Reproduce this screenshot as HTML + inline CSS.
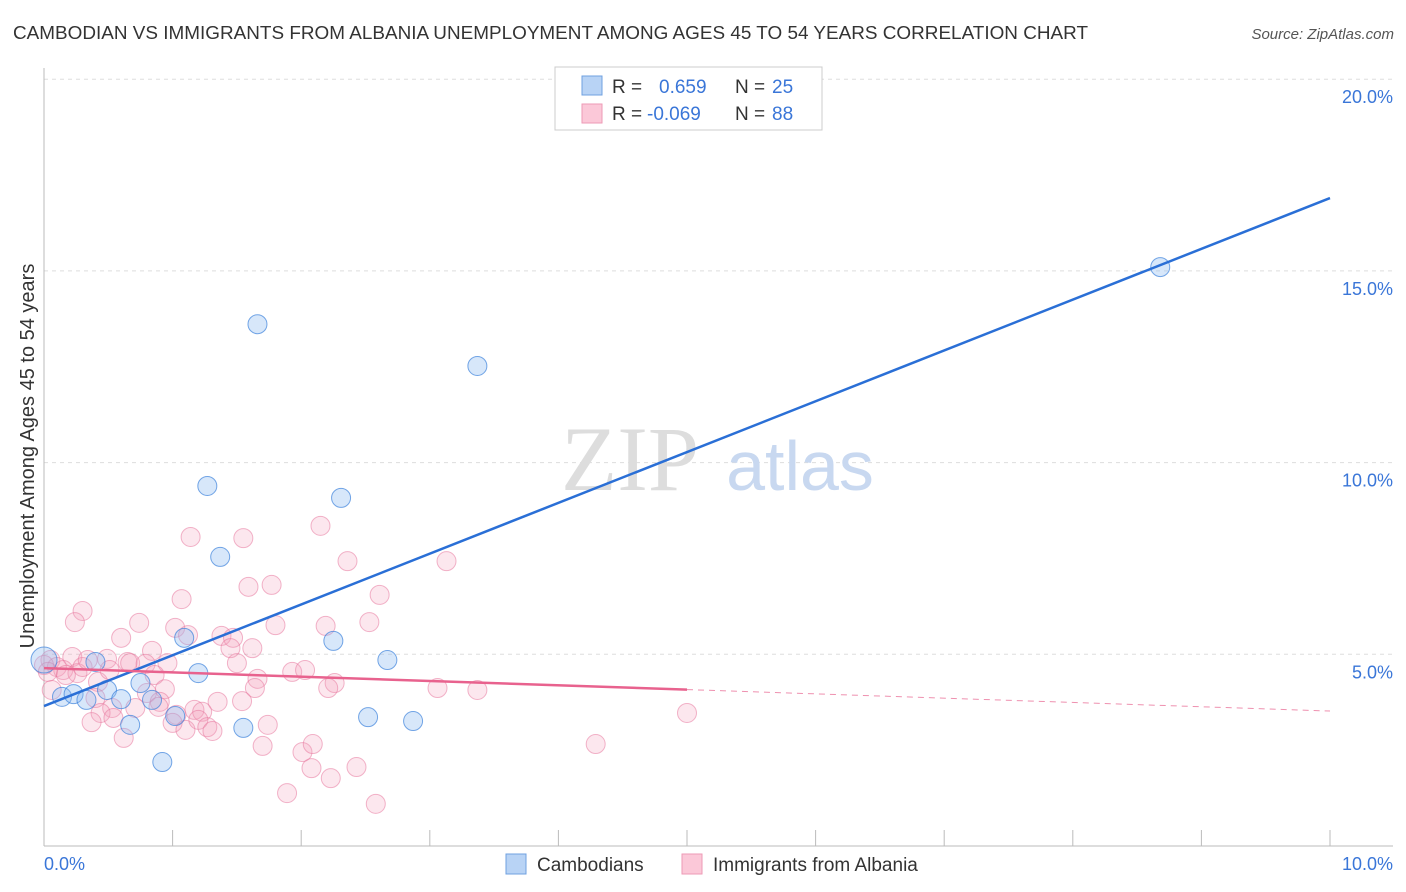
<!DOCTYPE html>
<html><head><meta charset="utf-8"><style>
body{margin:0;background:#fff;font-family:"Liberation Sans",sans-serif;}
svg{display:block}
</style></head><body>
<svg width="1406" height="892">
<text x="13" y="39" font-size="18.5" fill="#333" textLength="1075" lengthAdjust="spacingAndGlyphs">CAMBODIAN VS IMMIGRANTS FROM ALBANIA UNEMPLOYMENT AMONG AGES 45 TO 54 YEARS CORRELATION CHART</text>
<text x="1394" y="39" font-size="15" fill="#555" font-style="italic" text-anchor="end">Source: ZipAtlas.com</text>
<g id="grid"></g>
<text x="630" y="490" font-size="92" fill="#ddd" font-family="Liberation Serif,serif" text-anchor="middle">ZIP</text>
<text x="800" y="490" font-size="70" fill="#c8d8f0" text-anchor="middle">atlas</text>
<g id="pts"></g>
<g id="lines"></g>
<text x="34" y="456" font-size="20" fill="#333" text-anchor="middle" transform="rotate(-90 34 456)">Unemployment Among Ages 45 to 54 years</text>
<text x="44" y="870" font-size="18" fill="#3a76d8">0.0%</text>
<text x="1393" y="870" font-size="18" fill="#3a76d8" text-anchor="end">10.0%</text>
<g>
<rect x="555" y="67" width="267" height="63" fill="#fff" stroke="#ccc"/>
<rect x="582" y="76" width="20" height="19" fill="#b8d3f5" stroke="#6fa0e0"/>
<rect x="582" y="104" width="20" height="19" fill="#fbc8d8" stroke="#ee9ab6"/>
<text x="612" y="93" font-size="19" fill="#333">R = </text><text x="659" y="93" font-size="19" fill="#3a76d8">0.659</text>
<text x="735" y="93" font-size="19" fill="#333">N = </text><text x="772" y="93" font-size="19" fill="#3a76d8">25</text>
<text x="612" y="120" font-size="19" fill="#333">R = </text><text x="647" y="120" font-size="19" fill="#3a76d8">-0.069</text>
<text x="735" y="120" font-size="19" fill="#333">N = </text><text x="772" y="120" font-size="19" fill="#3a76d8">88</text>
</g>
<g>
<rect x="506" y="854" width="20" height="20" fill="#b8d3f5" stroke="#6fa0e0"/>
<text x="537" y="871" font-size="19" fill="#333">Cambodians</text>
<rect x="682" y="854" width="20" height="20" fill="#fbc8d8" stroke="#ee9ab6"/>
<text x="713" y="871" font-size="19" fill="#333">Immigrants from Albania</text>
</g>
</svg>
<script>
const yTicks=[5,10,15,20];
const yTickLabels=["5.0%","10.0%","15.0%","20.0%"];
const blueX=[0,0.14,0.23,0.33,0.40,0.49,0.60,0.67,0.75,0.84,0.92,1.02,1.09,1.20,1.27,1.37,1.55,1.66,2.25,2.31,2.52,2.67,2.87,3.37,8.68];
const blueY=[4.85,3.89,3.96,3.81,4.80,4.07,3.83,3.16,4.25,3.81,2.19,3.39,5.43,4.51,9.39,7.54,3.08,13.61,5.35,9.08,3.36,4.85,3.26,12.52,15.10];
const pinkX=[1.14,1.55,2.15,2.36,3.13,1.07,1.59,1.77,2.61,0.30,0.24,0.74,1.80,2.19,2.53,1.02,1.12,0.60,1.38,1.47,1.45,1.62,0.84,0.22,0.49,0.65,0.67,0.79,0.96,1.50,0.05,0.10,0.15,0.26,0.30,0.42,1.66,1.93,2.03,2.26,2.21,3.06,3.37,0.86,1.64,0.94,0.40,0.80,0.90,0.71,1.35,1.54,0.53,0.44,0.54,0.89,1.17,1.23,0.37,1.03,1.00,1.10,1.20,1.27,1.31,1.74,0.62,1.70,2.01,2.09,2.08,2.23,2.43,1.89,2.58,4.29,5.00,0.00,0.03,0.17,0.34,0.51,0.06];
const pinkY=[8.06,8.03,8.35,7.43,7.43,6.44,6.76,6.81,6.55,6.13,5.84,5.82,5.76,5.74,5.84,5.69,5.50,5.43,5.48,5.43,5.16,5.16,5.09,4.93,4.88,4.80,4.77,4.75,4.77,4.77,4.85,4.67,4.59,4.51,4.67,4.28,4.36,4.54,4.59,4.25,4.12,4.12,4.07,4.46,4.12,4.09,3.86,3.99,3.76,3.60,3.76,3.78,3.60,3.47,3.34,3.63,3.55,3.50,3.23,3.42,3.21,3.03,3.29,3.10,3.00,3.16,2.82,2.61,2.45,2.66,2.03,1.77,2.06,1.38,1.10,2.66,3.47,4.72,4.54,4.46,4.85,4.59,4.07];
const blueTrend=[3.65,16.90];
const pinkTrend=[4.64,3.52];
const pinkSolidEnd=5;
const X=v=>44+v*128.6, Y=v=>846-v*38.34;
const NS="http://www.w3.org/2000/svg";
function mk(p,t,a){const e=document.createElementNS(NS,t);for(const k in a)e.setAttribute(k,a[k]);p.appendChild(e);return e;}
const grid=document.getElementById('grid');
yTicks.forEach((t,i)=>{
 const l=mk(grid,'line',{x1:44,x2:1393,y1:Y(t),y2:Y(t),stroke:'#ddd','stroke-dasharray':'4,4'});
 
 
 const tx=mk(grid,'text',{x:1393,y:Y(t)+24,'font-size':18,fill:'#3a76d8','text-anchor':'end'});
 tx.textContent=yTickLabels[i];
 
 
});
const ax=mk(grid,'line',{x1:44,x2:1393,y1:846,y2:846,stroke:'#bbb'});


const ay=mk(grid,'line',{x1:44,x2:44,y1:68,y2:846,stroke:'#bbb'});


for(let i=1;i<=10;i++){const tk=mk(grid,'line',{x1:X(i),x2:X(i),y1:830,y2:846,stroke:'#bbb'});
 
 }
const pts=document.getElementById('pts');
pinkX.forEach((x,i)=>{const c=mk(pts,'circle',{cx:X(x),cy:Y(pinkY[i]),r:9.5,fill:'rgba(245,160,188,0.25)',stroke:'rgba(232,120,158,0.55)','stroke-width':1});
 
 });
blueX.forEach((x,i)=>{const c=mk(pts,'circle',{cx:X(x),cy:Y(blueY[i]),r:i===0?13:9.5,fill:'rgba(140,185,240,0.35)',stroke:'rgba(60,130,220,0.7)','stroke-width':1});
 
 });
const lines=document.getElementById('lines');
const bl=mk(lines,'line',{x1:X(0),y1:Y(blueTrend[0]),x2:X(10),y2:Y(blueTrend[1]),stroke:'#2a6fd6','stroke-width':2.5});


const py=x=>pinkTrend[0]+(pinkTrend[1]-pinkTrend[0])*x/10;
const pl=mk(lines,'line',{x1:X(0),y1:Y(py(0)),x2:X(pinkSolidEnd),y2:Y(py(pinkSolidEnd)),stroke:'#e8628e','stroke-width':2.5});


const pd=mk(lines,'line',{x1:X(pinkSolidEnd),y1:Y(py(pinkSolidEnd)),x2:X(10),y2:Y(py(10)),stroke:'#e8628e','stroke-width':1,'stroke-dasharray':'6,5',opacity:0.7});


</script>
</body></html>
